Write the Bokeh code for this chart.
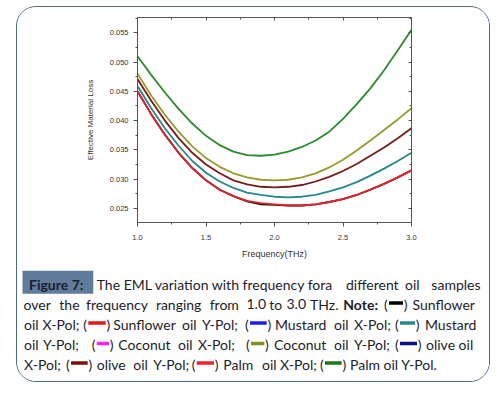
from bokeh.plotting import figure
from bokeh.layouts import column
from bokeh.models import LinearAxis, Range1d, SingleIntervalTicker, NumeralTickFormatter
from bokeh.core.properties import value
from bokeh.embed import file_html
from bokeh.resources import INLINE

freq = [1.0, 1.1, 1.2, 1.3, 1.4, 1.5, 1.6, 1.7, 1.8, 1.9, 2.0,
        2.1, 2.2, 2.3, 2.4, 2.5, 2.6, 2.7, 2.8, 2.9, 3.0]
sunflower_x = [0.0450, 0.0411, 0.0376, 0.0345, 0.0319, 0.0298, 0.0282, 0.0271, 0.0262, 0.0257, 0.0256,
               0.0255, 0.0255, 0.0257, 0.0261, 0.0266, 0.0273, 0.0282, 0.0292, 0.0303, 0.0315]
palm_x = [0.0450, 0.0411, 0.0376, 0.0345, 0.0319, 0.0298, 0.0282, 0.0271, 0.0263, 0.0259, 0.0257,
          0.0255, 0.0255, 0.0257, 0.0261, 0.0266, 0.0273, 0.0282, 0.0292, 0.0303, 0.0315]
mustard_y = [0.0459, 0.0421, 0.0387, 0.0357, 0.0331, 0.0311, 0.0296, 0.0285, 0.0277, 0.0273, 0.0270,
             0.0269, 0.0270, 0.0273, 0.0279, 0.0286, 0.0295, 0.0306, 0.0318, 0.0331, 0.0345]
olive_y = [0.0471, 0.0434, 0.0400, 0.0370, 0.0345, 0.0325, 0.0310, 0.0298, 0.0291, 0.0287, 0.0286,
           0.0287, 0.0290, 0.0296, 0.0304, 0.0314, 0.0326, 0.0340, 0.0354, 0.0370, 0.0387]
coconut_y = [0.0480, 0.0443, 0.0410, 0.0381, 0.0356, 0.0336, 0.0321, 0.0310, 0.0303, 0.0299, 0.0298,
             0.0299, 0.0303, 0.0310, 0.0320, 0.0333, 0.0349, 0.0366, 0.0384, 0.0402, 0.0421]
palm_y = [0.0510, 0.0478, 0.0448, 0.0420, 0.0395, 0.0374, 0.0358, 0.0347, 0.0341, 0.0340, 0.0342,
          0.0347, 0.0355, 0.0366, 0.0381, 0.0403, 0.0428, 0.0455, 0.0486, 0.0520, 0.0555]

series = [
    ("Sunflower oil X-Pol", sunflower_x, "#111111"),
    ("Palm oil X-Pol", palm_x, "#e3242b"),
    ("Mustard oil Y-Pol", mustard_y, "#23898c"),
    ("olive oil Y-Pol", olive_y, "#7b1a1a"),
    ("Coconut oil Y-Pol", coconut_y, "#979a2e"),
    ("Palm oil Y-Pol", palm_y, "#2a8c2a"),
]

x_ticks_interval = 0.5
y_ticks_interval = 0.005

# caption content (justified text): (line, x, text, bold, align)
caption_segments = [
    (0, 29, "Figure 7:", True, "left"),
    (0, 96.7, "The EML variation with frequency fora", False, "left"),
    (0, 346, "different", False, "left"), (0, 405, "oil", False, "left"),
    (0, 480.5, "samples", False, "right"),
    (1, 23.5, "over", False, "left"), (1, 59.3, "the", False, "left"),
    (1, 86.1, "frequency", False, "left"), (1, 155.9, "ranging", False, "left"),
    (1, 209.7, "from", False, "left"), (1, 246.5, "1.0", False, "left"),
    (1, 269.3, "to", False, "left"), (1, 286.5, "3.0", False, "left"),
    (1, 338.5, "THz.", False, "right"),
    (1, 343.3, "Note:", True, "left"),
    (1, 412.5, "Sunflower", False, "left"),
    (2, 24, "oil", False, "left"), (2, 42.5, "X-Pol;", False, "left"),
    (2, 113.3, "Sunflower", False, "left"), (2, 182, "oil", False, "left"),
    (2, 202, "Y-Pol;", False, "left"),
    (2, 275, "Mustard", False, "left"), (2, 334, "oil", False, "left"),
    (2, 354, "X-Pol;", False, "left"),
    (2, 425, "Mustard", False, "left"),
    (3, 24, "oil", False, "left"), (3, 43, "Y-Pol;", False, "left"),
    (3, 118.3, "Coconut", False, "left"), (3, 178, "oil", False, "left"),
    (3, 198, "X-Pol;", False, "left"),
    (3, 274, "Coconut", False, "left"), (3, 334, "oil", False, "left"),
    (3, 354, "Y-Pol;", False, "left"),
    (3, 426, "olive oil", False, "left"),
    (4, 24, "X-Pol;", False, "left"),
    (4, 96.7, "olive", False, "left"), (4, 133.3, "oil", False, "left"),
    (4, 153.3, "Y-Pol;", False, "left"),
    (4, 223.3, "Palm", False, "left"), (4, 262, "oil", False, "left"),
    (4, 280, "X-Pol;", False, "left"),
    (4, 350, "Palm oil Y-Pol.", False, "left"),
]
# legend swatches: (line, x0, x1, colour) — each wrapped in "( )"
caption_dashes = [
    (1, 389, 403, "#000000"),
    (2, 88.3, 105.7, "#e8151b"), (2, 250, 266.7, "#1a1aff"), (2, 400, 415, "#2a8a8a"),
    (3, 96.7, 109, "#ff22ff"), (3, 251, 264.3, "#8a8a20"), (3, 400, 417, "#10107a"),
    (4, 71, 87.7, "#7a1010"), (4, 196.7, 214, "#ee2233"), (4, 325, 341.7, "#1a7a1a"),
]
baselines = [288.5, 308, 328, 348.5, 368]

# ---------- layout geometry (page px) ----------
CX0, CY0 = 17.5, 7.5        # content origin inside rounded border
CW = 472
CH1 = 255                   # chart figure height
CH2 = 119                   # caption figure height
FL, FR, FT, FB = 137.5, 412, 18, 222
TEXT_DY = -4                # canvas text baseline correction

ax_col = "#555555"
lab_col = "#333333"

p = figure(width=CW, height=CH1, output_backend="svg", toolbar_location=None,
           x_range=Range1d(1.0, 3.0), y_range=Range1d(0.0226, 0.0576),
           min_border_left=int(round(FL - CX0)), min_border_right=int(round(CX0 + CW - FR)),
           min_border_top=int(round(FT - CY0)), min_border_bottom=int(round(CY0 + CH1 - FB)))
p.frame_align = False
p.grid.visible = False
p.outline_line_color = ax_col
p.background_fill_color = "white"
p.border_fill_color = "white"

for name, ys, col in series:
    p.line(freq, ys, line_color=col, line_width=1.8)

xa = p.xaxis[0]
xa.ticker = SingleIntervalTicker(interval=x_ticks_interval, num_minor_ticks=2)
xa.formatter = NumeralTickFormatter(format="0.0")
xa.axis_label = "Frequency(THz)"
ya = p.yaxis[0]
ya.ticker = SingleIntervalTicker(interval=y_ticks_interval, num_minor_ticks=2)
ya.formatter = NumeralTickFormatter(format="0.000")
ya.axis_label = "Effective Material Loss"
for a in (xa, ya):
    a.axis_line_color = ax_col
    a.major_tick_line_color = ax_col
    a.minor_tick_line_color = ax_col
    a.major_tick_out = 4
    a.major_tick_in = 0
    a.minor_tick_out = 2
    a.minor_tick_in = 0
    a.major_label_text_font = "Liberation Sans"
    a.major_label_text_font_size = "7.5px"
    a.major_label_text_color = lab_col
    a.axis_label_text_font = "Liberation Sans"
    a.axis_label_text_font_style = "normal"
    a.axis_label_text_color = lab_col
xa.axis_label_text_font_size = "9px"
ya.axis_label_text_font_size = "8px"
xa.major_label_standoff = 8
xa.axis_label_standoff = 6
ya.major_label_standoff = 5
ya.axis_label_standoff = 12

for loc, iv in (("above", x_ticks_interval), ("right", y_ticks_interval)):
    ax = LinearAxis(ticker=SingleIntervalTicker(interval=iv, num_minor_ticks=2),
                    major_label_text_font_size="1px", major_label_text_color=None,
                    major_label_standoff=0,
                    axis_line_color=ax_col, major_tick_line_color=ax_col,
                    minor_tick_line_color=ax_col, major_tick_in=3, major_tick_out=0,
                    minor_tick_in=2, minor_tick_out=0)
    p.add_layout(ax, loc)

# ---------- caption figure: data units = page px ----------
Y0 = CY0 + CH1
c = figure(width=CW, height=CH2, output_backend="svg", toolbar_location=None,
           x_range=Range1d(CX0, CX0 + CW), y_range=Range1d(Y0 + CH2, Y0),
           x_axis_type=None, y_axis_type=None, min_border=0)
c.frame_align = False
c.grid.visible = False
c.outline_line_color = None
c.background_fill_color = "white"
c.border_fill_color = "white"

c.quad(left=[22.5], right=[93.3], top=[270.7], bottom=[293.7],
       fill_color="#5f7c9c", line_color=None)

text_col = "#1c1c2c"
for bold in (False, True):
    for align in ("left", "right"):
        sel = [s for s in caption_segments if s[3] == bold and s[4] == align]
        if not sel:
            continue
        c.text(x=[s[1] for s in sel], y=[baselines[s[0]] + TEXT_DY for s in sel],
               text=[s[2] for s in sel], text_font=value("Lato"), text_font_size=value("14px"),
               text_font_style=value("bold" if bold else "normal"),
               text_color=text_col, text_baseline="alphabetic", text_align=align)

# parentheses around the swatches
c.text(x=[d[1] - 5 for d in caption_dashes], y=[baselines[d[0]] + TEXT_DY for d in caption_dashes],
       text=["("] * len(caption_dashes), text_font=value("Lato"), text_font_size=value("14px"),
       text_color=text_col, text_baseline="alphabetic", text_align="left")
c.text(x=[d[2] + 0.8 for d in caption_dashes], y=[baselines[d[0]] + TEXT_DY for d in caption_dashes],
       text=[")"] * len(caption_dashes), text_font=value("Lato"), text_font_size=value("14px"),
       text_color=text_col, text_baseline="alphabetic", text_align="left")
c.quad(left=[d[1] for d in caption_dashes], right=[d[2] for d in caption_dashes],
       top=[baselines[d[0]] - 6.8 for d in caption_dashes],
       bottom=[baselines[d[0]] - 3.2 for d in caption_dashes],
       fill_color=[d[3] for d in caption_dashes], line_color=None)

lay = column(p, c, spacing=0,
             styles={"margin-left": "16px", "margin-top": "6px",
                     "border": "1.5px solid #4a6a8c", "border-radius": "20px",
                     "overflow": "hidden", "background": "white"})

open("out.html", "w").write(file_html(lay, INLINE))
